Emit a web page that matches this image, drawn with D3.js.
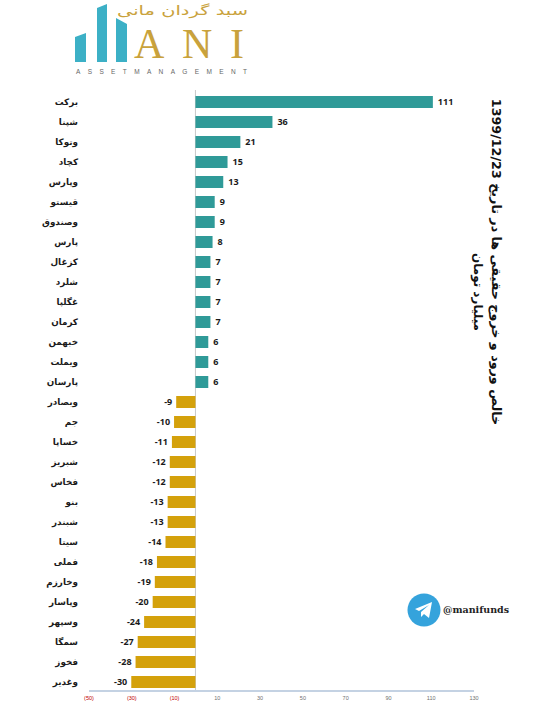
<!DOCTYPE html>
<html>
<head>
<meta charset="utf-8">
<script src="https://cdn.jsdelivr.net/npm/d3@7"></script>
<style>
  html, body { margin: 0; padding: 0; background: #fff; }
  svg { display: block; }
</style>
</head>
<body>
<svg id="chart" width="546" height="707"></svg>
<script>
// ---- DATA ----
const categories = ["برکت","شپنا","وتوکا","کچاد","وپارس","قیستو","وصندوق","پارس","کزغال","شلرد",
  "غگلپا","کرمان","خبهمن","ویملت","پارسان","وبصادر","جم","خساپا","شبریز","فخاس",
  "بنو","شبندر","سیتا","فملی","وخارزم","وپاسار","وسپهر","سمگا","فخوز","وغدیر"];
const values = [111,36,21,15,13,9,9,8,7,7,
  7,7,6,6,6,-9,-10,-11,-12,-12,
  -13,-13,-14,-18,-19,-20,-24,-27,-28,-30];
const tickValues = [-50,-30,-10,10,30,50,70,90,110,130];
const titleText = "خالص ورود و خروج حقیقی ها در تاریخ 1399/12/23";
const subtitleText = "میلیارد تومان";
const logoFa = "سبد گردان مانی";
const logoEn = "ANI";
const logoSub = "ASSETMANAGEMENT";
const channel = "@manifunds";

// ---- CHART ----
const svg = d3.select("#chart");
const POS = "#2f9a98", NEG = "#d4a10b";

const x = d3.scaleLinear().domain([-50, 130]).range([88.5, 473.5]);
const y = d3.scaleBand().domain(categories).range([92, 692]).paddingInner(0.4).paddingOuter(0.2);

const data = categories.map((c, i) => ({c, v: values[i]}));

// zero line
svg.append("line")
  .attr("x1", x(0)).attr("x2", x(0))
  .attr("y1", 90).attr("y2", 690)
  .attr("stroke", "#c8c8c8").attr("stroke-width", 1);

// bars
svg.append("g").selectAll("rect").data(data).join("rect")
  .attr("x", d => x(Math.min(0, d.v)))
  .attr("y", d => y(d.c))
  .attr("width", d => Math.abs(x(d.v) - x(0)))
  .attr("height", y.bandwidth())
  .attr("fill", d => d.v >= 0 ? POS : NEG);

// value labels
svg.append("g").selectAll("text").data(data).join("text")
  .attr("x", d => d.v >= 0 ? x(d.v) + 5 : x(d.v) - 4)
  .attr("y", d => y(d.c) + y.bandwidth() / 2)
  .attr("dy", "0.35em")
  .attr("text-anchor", d => d.v >= 0 ? "start" : "end")
  .attr("font-family", "'Open Sans', 'Liberation Sans', sans-serif")
  .attr("font-weight", "bold")
  .attr("font-size", 9)
  .attr("fill", "#1a1a1a")
  .text(d => d.v);

// category labels
svg.append("g").selectAll("text").data(data).join("text")
  .attr("x", 78)
  .attr("y", d => y(d.c) + y.bandwidth() / 2)
  .attr("dy", "0.35em")
  .attr("text-anchor", "end")
  .attr("font-family", "'DejaVu Sans', sans-serif")
  .attr("font-weight", "bold")
  .attr("font-size", 8.8)
  .attr("fill", "#1a1a1a")
  .text(d => d.c);

// x axis
const axis = d3.axisBottom(x).tickValues(tickValues).tickSize(0).tickPadding(6)
  .tickFormat(d => d < 0 ? "(" + Math.abs(d) + ")" : d);
const gx = svg.append("g").attr("transform", "translate(0,690.5)").call(axis);
gx.select(".domain").attr("stroke", "#8aa6c8").attr("stroke-width", 1.2);
gx.selectAll(".tick text")
  .attr("font-family", "'Liberation Sans', sans-serif")
  .attr("font-size", 5.5)
  .attr("fill", d => d < 0 ? "#c00000" : "#707070");

// title (rotated)
svg.append("text")
  .attr("transform", "translate(496,262) rotate(90)")
  .attr("direction", "rtl")
  .attr("text-anchor", "middle")
  .attr("dy", "0.35em")
  .attr("font-family", "'DejaVu Sans', sans-serif")
  .attr("font-weight", "bold")
  .attr("font-size", 12.7)
  .attr("fill", "#111")
  .text(titleText);
svg.append("text")
  .attr("transform", "translate(478,292) rotate(90)")
  .attr("direction", "rtl")
  .attr("text-anchor", "middle")
  .attr("dy", "0.35em")
  .attr("font-family", "'DejaVu Sans', sans-serif")
  .attr("font-weight", "bold")
  .attr("font-size", 12)
  .attr("fill", "#111")
  .text(subtitleText);

// ---- LOGO ----
const logo = svg.append("g");
const LB = "#3cb0c6", GOLD = "#c9a23c";
logo.append("polygon").attr("points", "75,37 86,33 86,62 75,62").attr("fill", LB);
logo.append("polygon").attr("points", "97,8 107,4 107,62 97,62").attr("fill", LB);
logo.append("polygon").attr("points", "116,18 127,24 127,62 116,62").attr("fill", LB);
logo.append("text")
  .attr("x", 117).attr("y", 15)
  .attr("textLength", 131).attr("lengthAdjust", "spacingAndGlyphs")
  .attr("font-family", "'DejaVu Sans', sans-serif")
  .attr("font-size", 13)
  .attr("fill", GOLD)
  .text(logoFa);
logo.append("text")
  .attr("x", 134).attr("y", 58)
  .attr("textLength", 110).attr("lengthAdjust", "spacing")
  .attr("font-family", "'Liberation Serif', serif")
  .attr("font-size", 42)
  .attr("fill", GOLD)
  .text(logoEn);
logo.append("text")
  .attr("x", 76).attr("y", 73.5)
  .attr("textLength", 171).attr("lengthAdjust", "spacing")
  .attr("font-family", "'Liberation Sans', sans-serif")
  .attr("font-size", 6.5)
  .attr("fill", "#666")
  .text(logoSub);

// ---- TELEGRAM ----
const tg = svg.append("g").attr("transform", "translate(424,610)");
tg.append("circle").attr("r", 16.5).attr("fill", "#35a3dc");
tg.append("path")
  .attr("d", "M-9,-1 L8,-8 L5,8 L0,4 L-3,7 L-3,2 L5,-5 L-5,1 Z")
  .attr("fill", "#fff");
svg.append("text")
  .attr("x", 443).attr("y", 613)
  .attr("font-family", "'DejaVu Serif', serif")
  .attr("font-weight", "bold")
  .attr("font-size", 9.5)
  .attr("fill", "#222")
  .text(channel);
</script>
</body>
</html>
